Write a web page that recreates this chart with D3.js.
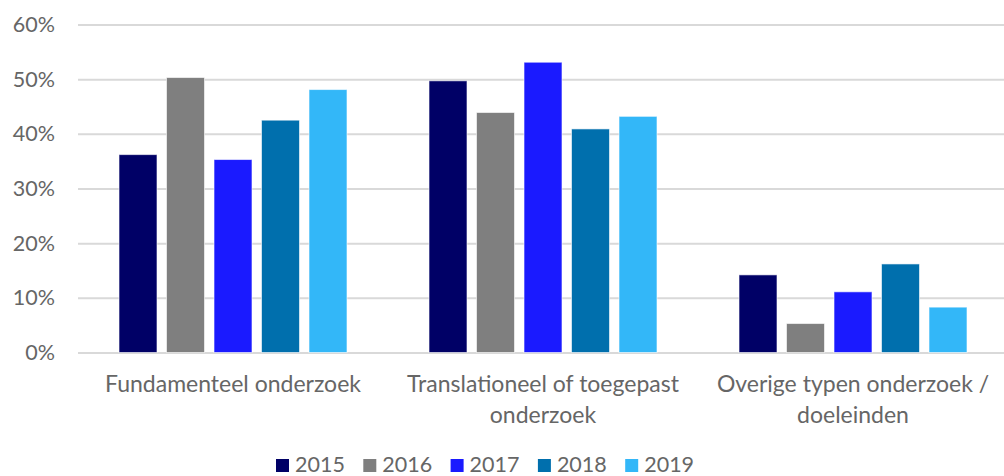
<!DOCTYPE html>
<html><head><meta charset="utf-8">
<script src="https://cdn.jsdelivr.net/npm/d3@7"></script>
<style>body{margin:0;background:#fff;}svg{display:block;font-family:"Lato","Noto Sans",sans-serif;}</style>
</head><body>
<svg id="c" width="1004" height="476"></svg>
<script>
const categories = [["Fundamenteel onderzoek"], ["Translationeel of toegepast", "onderzoek"], ["Overige typen onderzoek /", "doeleinden"]];
const years = ["2015", "2016", "2017", "2018", "2019"];
const v2015 = [36.2, 49.7, 14.2];
const v2016 = [50.3, 43.9, 5.3];
const v2017 = [35.3, 53.1, 11.1];
const v2018 = [42.5, 40.9, 16.2];
const v2019 = [48.1, 43.2, 8.3];
const yTicks = [0, 10, 20, 30, 40, 50, 60];
const colors = ["#000066", "#7f7f7f", "#1a1aff", "#006fad", "#33b7f8"];
const series = [v2015, v2016, v2017, v2018, v2019];

(function () {
const svg = d3.select("#c");
const pl = 78, pr = 1008, pt = 24.5, pb = 352.5;
const x0 = d3.scaleBand().domain(d3.range(3)).range([pl, pr]).paddingInner(0).paddingOuter(0);
const x1 = d3.scaleBand().domain(years).range([41, 310 - 41]).paddingInner(0.2).paddingOuter(0);
const y = d3.scaleLinear().domain([0, 60]).range([pb, pt]);

const ax = svg.append("g").attr("transform", `translate(${pl},0)`)
  .call(d3.axisLeft(y).tickValues(yTicks).tickSize(-(1004 - pl)).tickPadding(23).tickFormat(d => d + "%"));
ax.select(".domain").remove();
ax.selectAll(".tick line").attr("stroke", "#d9d9d9").attr("stroke-width", 2);
ax.selectAll(".tick text").attr("fill", "#666").attr("font-size", 21.5).attr("font-family", "Lato");

categories.forEach((c, i) => {
  const g = svg.append("g").attr("transform", `translate(${x0(i)},0)`);
  years.forEach((yr, j) => {
    const v = series[j][i];
    g.append("rect").attr("x", x1(yr)).attr("width", x1.bandwidth())
      .attr("y", y(v)).attr("height", y(0) - y(v))
      .attr("fill", colors[j]).attr("stroke", "rgba(255,255,255,0.6)").attr("stroke-width", 1);
  });
  const t = svg.append("text").attr("text-anchor", "middle").attr("fill", "#666").attr("font-size", 23);
  c.forEach((line, k) => {
    t.append("tspan").attr("x", x0(i) + x0.bandwidth() / 2).attr("y", 392 + k * 31).text(line);
  });
});

const legend = svg.append("g");
const lx = 276, lstep = 87.3;
years.forEach((yr, j) => {
  legend.append("rect").attr("x", lx + j * lstep).attr("y", 459).attr("width", 13).attr("height", 13).attr("fill", colors[j]);
  legend.append("text").attr("x", lx + j * lstep + 19).attr("y", 472).attr("fill", "#666").attr("font-size", 21.5).text(yr);
});
})();
</script>
</body></html>
